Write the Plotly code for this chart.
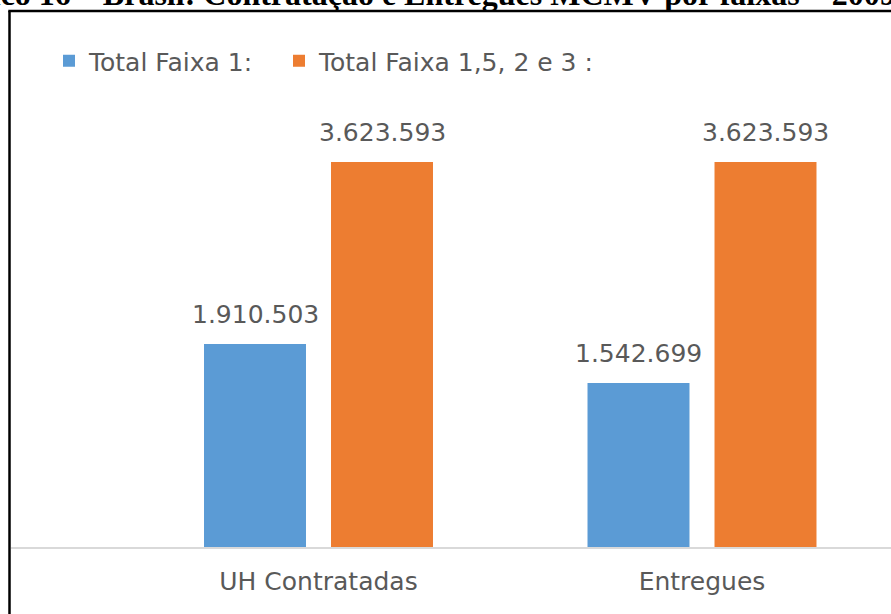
import plotly.graph_objects as go

categories = ["UH Contratadas", "Entregues"]
faixa1 = [1910503, 1542699]
faixa_outras = [3623593, 3623593]
series_names = ["Total Faixa 1:", "Total Faixa 1,5, 2 e 3 :"]
title_text = "Gráfico 16 – Brasil: Contratação e Entregues MCMV por faixas – 2009"

W, H = 891, 614
ML, MR, MT, MB = 11, 0, 100, 67
plot_w = W - ML - MR
plot_h = H - MT - MB

def px_x(p):
    return (p - ML) / plot_w

def px_y(p):
    return (H - MB - p) / plot_h

txt_color = "#595959"
font_fam = "DejaVu Sans"
colors = ["#5B9BD5", "#ED7D31"]
BARGAP, BARGROUPGAP = 0.3377, 0.197

fig = go.Figure()
series = [faixa1, faixa_outras]
for i, (vals, name) in enumerate(zip(series, series_names)):
    fig.add_trace(go.Bar(
        x=categories, y=vals, name=name,
        legend="legend" if i == 0 else "legend2",
        marker=dict(color=colors[i], line=dict(width=0)),
        hoverinfo="x+y+name",
    ))

# value labels above each bar, placed at the bar centres of the grouped layout
slot = (1 - BARGAP) / len(series)
annotations = []
for i, vals in enumerate(series):
    off = -(1 - BARGAP) / 2 + slot * (i + 0.5)
    for j, v in enumerate(vals):
        annotations.append(dict(
            x=j + off, y=v, xref="x", yref="y",
            text=f"{v:,}".replace(",", "."),
            showarrow=False, xanchor="center", yanchor="middle", yshift=30,
            font=dict(size=25, color=txt_color, family=font_fam),
        ))

annotations.append(dict(
    text="<b>" + title_text + "</b>", xref="paper", yref="paper",
    x=px_x(-76), y=px_y(14), xanchor="left", yanchor="bottom",
    showarrow=False,
    font=dict(family="Liberation Serif", size=32, color="black"),
))

ymax = max(faixa_outras) * plot_h / 385.0

leg_common = dict(
    orientation="h", xanchor="left", y=px_y(61), yanchor="middle",
    font=dict(size=25, color=txt_color, family=font_fam),
    bgcolor="rgba(0,0,0,0)",
)

fig.update_layout(
    width=W, height=H,
    margin=dict(l=ML, r=MR, t=MT, b=MB, pad=0),
    paper_bgcolor="white", plot_bgcolor="white",
    separators=",.",
    barmode="group", bargap=BARGAP, bargroupgap=BARGROUPGAP,
    font=dict(family=font_fam, color=txt_color),
    showlegend=True,
    legend=dict(x=px_x(49), **leg_common),
    legend2=dict(x=px_x(279), **leg_common),
    xaxis=dict(
        range=[(ML - 318.5) / 383.5, (W - 318.5) / 383.5],
        showline=True, linecolor="#D9D9D9", linewidth=2,
        showgrid=False, ticks="", zeroline=False,
        tickfont=dict(size=25, color=txt_color, family=font_fam),
        ticklabelstandoff=11,
    ),
    yaxis=dict(
        range=[0, ymax], visible=False, showgrid=False, zeroline=False,
    ),
    shapes=[
        dict(type="line", xref="paper", yref="paper",
             x0=px_x(9.5), x1=px_x(9.5), y0=px_y(11), y1=px_y(640),
             line=dict(color="black", width=2.5)),
        dict(type="line", xref="paper", yref="paper",
             x0=px_x(8.3), x1=px_x(900), y0=px_y(11), y1=px_y(11),
             line=dict(color="black", width=2.5)),
    ],
    annotations=annotations,
)

fig.write_html("out.html", config={"displayModeBar": False},
               post_script="document.body.style.margin='0';")
